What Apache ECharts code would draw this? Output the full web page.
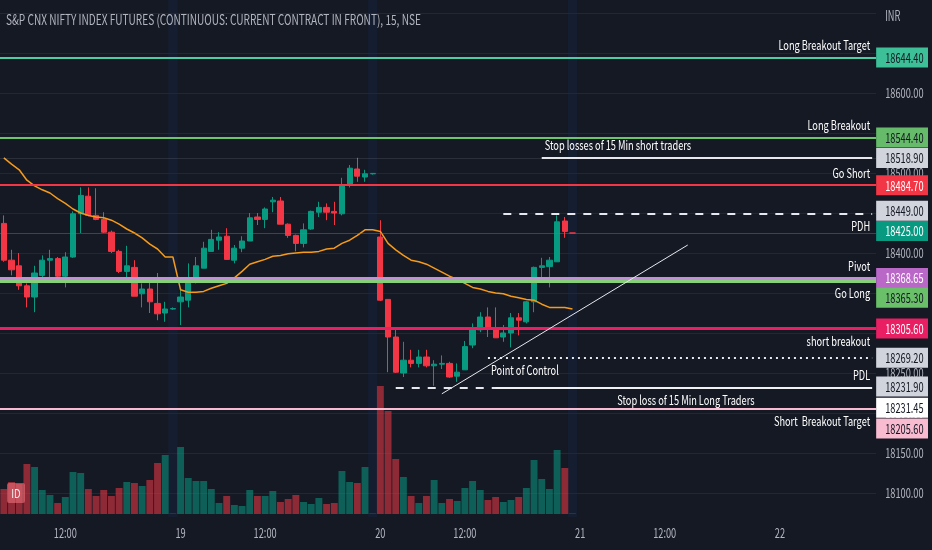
<!DOCTYPE html>
<html>
<head>
<meta charset="utf-8">
<script src="https://cdn.jsdelivr.net/npm/echarts@6/dist/echarts.min.js"></script>
<style>
  html, body { margin: 0; padding: 0; background: #151924; }
  #chart { width: 932px; height: 550px; }
</style>
</head>
<body>
<div id="chart"></div>
<script>
// narrow look of the screenshot: Source Sans latin (inside Noto CJK) squeezed horizontally
var FONT = "'Noto Sans CJK SC', 'DejaVu Sans Condensed', sans-serif";

// bars: 16th from 10:00, then 19th and 20th full sessions (15:30 = closing tick)
var days = ['16', '19', '20', '21', '22'];
var firstBar = 3;
var barCount = 114;
var timeTicks = ['16 12:00', '19 09:15', '19 12:00', '20 09:15', '20 12:00', '21 09:15', '21 12:00', '22 09:15'];
var timeTickText = ['12:00', '19', '12:00', '20', '12:00', '21', '12:00', '22'];
var priceTicks = [18100, 18150, 18200, 18250, 18300, 18350, 18400, 18450, 18500, 18550, 18600, 18650];

// [open, close, low, high]
var candles = [
  [18437, 18391, 18389, 18447], [18391, 18379, 18372, 18404], [18384, 18359, 18354, 18400],
  [18359, 18345, 18332, 18362], [18345, 18375, 18326, 18384], [18372, 18391, 18366, 18397],
  [18391, 18393, 18370, 18404], [18393, 18371, 18369, 18395], [18371, 18395, 18357, 18401],
  [18395, 18449, 18394, 18452], [18449, 18472, 18425, 18482], [18471, 18447, 18446, 18482],
  [18447, 18442, 18441, 18481], [18442, 18426, 18425, 18451], [18426, 18402, 18400, 18428],
  [18402, 18377, 18375, 18404], [18377, 18384, 18364, 18409], [18382, 18346, 18346, 18391],
  [18349, 18355, 18332, 18362], [18355, 18339, 18325, 18366], [18337, 18324, 18316, 18375],
  [18325, 18330, 18314, 18339], [18330, 18330.5, 18329, 18332],
  [18339, 18345, 18310, 18354], [18341, 18369, 18332, 18387], [18369, 18384, 18362, 18395],
  [18381, 18406, 18381, 18414], [18402, 18417, 18402, 18429], [18416, 18420, 18404, 18426],
  [18421, 18392, 18392, 18431], [18391, 18406, 18387, 18410], [18406, 18415, 18401, 18421],
  [18415, 18444, 18415, 18450], [18445, 18442, 18435, 18450], [18442, 18455, 18431, 18457],
  [18464, 18466, 18451, 18470], [18465, 18436, 18436, 18470], [18436, 18422, 18419, 18437],
  [18422, 18412, 18402, 18423], [18412, 18429, 18407, 18437], [18430, 18452, 18429, 18453],
  [18451, 18457, 18445, 18464], [18457, 18451, 18441, 18462], [18452, 18450, 18435, 18464],
  [18449, 18485, 18447, 18494], [18485, 18506, 18482, 18510], [18505, 18496, 18489, 18519],
  [18495, 18499, 18489, 18504], [18499, 18499.5, 18498, 18500],
  [18420, 18341, 18340, 18441], [18342, 18295, 18251, 18342], [18295, 18251, 18250, 18304],
  [18250, 18266, 18245, 18289], [18266, 18262, 18257, 18279], [18262, 18270, 18257, 18279],
  [18270, 18259, 18257, 18279], [18259, 18261, 18234, 18266], [18261, 18262, 18255, 18272],
  [18262, 18245, 18244, 18264], [18246, 18251, 18239, 18262], [18254, 18283, 18254, 18290],
  [18285, 18306, 18281, 18312], [18304, 18320, 18301, 18326], [18320, 18305, 18295, 18332],
  [18306, 18294, 18294, 18332], [18295, 18300, 18289, 18310], [18300, 18319, 18282, 18325],
  [18319, 18316, 18297, 18325], [18314, 18339, 18312, 18340], [18339, 18382, 18326, 18383],
  [18382, 18384, 18370, 18394], [18383, 18391, 18357, 18395], [18389, 18439, 18389, 18447],
  [18440, 18427, 18419, 18445], [18425, 18425, 18425, 18425]
];

// volume, thousands
var volumes = [
  25, 32, 30, 50, 47, 24, 19, 11, 17, 42,
  41, 25, 18, 24, 18, 26, 32, 31, 28, 34,
  51, 59, 0.5, 67, 36, 33, 33, 25, 11, 18,
  9, 8, 24, 18, 18, 23, 12, 15, 19, 12,
  10, 16, 10, 11, 43, 32, 31, 47, 0.5, 128,
  103, 55, 37, 18, 11, 18, 34, 11, 15, 13,
  26, 33, 24, 14, 17, 12, 14, 17, 26, 54,
  35, 25, 64, 46, 0.5
];

// orange moving average
var avgLine = [
  18519, 18511, 18504, 18491, 18484, 18479, 18475, 18468, 18462, 18455,
  18450, 18447, 18445, 18444, 18441, 18436, 18430, 18425, 18419, 18411,
  18405, 18395, 18395, 18354, 18351, 18351, 18352, 18356, 18359, 18362,
  18369, 18377, 18386, 18389, 18392, 18396, 18397, 18399, 18400, 18401,
  18401, 18402, 18405, 18406, 18412, 18416, 18422, 18429, 18429, 18427,
  18412, 18404, 18397, 18391, 18389, 18386, 18381, 18376, 18371, 18367,
  18362, 18357, 18355, 18352, 18350, 18349, 18346, 18344, 18342, 18341,
  18336, 18332, 18332, 18332, 18330
];

var levelPrices = [18644.40, 18544.40, 18518.90, 18484.70, 18449.00, 18368.65, 18365.30, 18305.60, 18269.20, 18231.90, 18231.45, 18205.60];
var levelNames = ['Long Breakout Target', 'Long Breakout', 'Stop losses of 15 Min short traders', 'Go Short', 'PDH', 'Pivot', 'Go Long', 'short breakout', 'Point of Control', 'PDL', 'Stop loss of 15 Min Long Traders', 'Short  Breakout Target'];
// bar where a drawing starts (null = whole width)
var levelStart = [null, null, 70, null, 65, null, null, null, 63, 51, 64, null];
var lastPrice = 18425.00;
var trendLine = [[57, 18224], [89, 18410]];

var levelStyle = [
  { color: '#4ecca3', width: 2, type: 'solid', pos: 'endTop', box: '#3dbf98', text: '#131722', shift: 0 },
  { color: '#6cc46b', width: 2, type: 'solid', pos: 'endTop', box: '#66bb6a', text: '#131722', shift: 0 },
  { color: '#e6e8ee', width: 2, type: 'solid', pos: 'startTop', box: '#d1d4dc', text: '#131722', shift: 0 },
  { color: '#f23645', width: 2, type: 'solid', pos: 'endTop', box: '#f23645', text: '#ffffff', shift: 0 },
  { color: '#e6e8ee', width: 2, type: [8, 8], pos: 'endBottom', box: '#d1d4dc', text: '#131722', shift: -3 },
  { color: '#c38fd6', width: 3, type: 'solid', pos: 'endTop', box: '#ba68c8', text: '#ffffff', shift: 0 },
  { color: '#86d07a', width: 3, type: 'solid', pos: 'endBottom', box: '#6abf69', text: '#131722', shift: 17 },
  { color: '#e91e63', width: 3, type: 'solid', pos: 'endBottom', box: '#e91e63', text: '#ffffff', shift: 0 },
  { color: '#e6e8ee', width: 2, type: [2, 4], pos: 'startBottom', box: '#d1d4dc', text: '#131722', shift: 0 },
  { color: '#e6e8ee', width: 2, type: [8, 8], pos: 'endTop', box: '#d1d4dc', text: '#131722', shift: -1 },
  { color: '#f0f1f4', width: 2, type: 'solid', pos: 'middleBottom', box: '#ffffff', text: '#131722', shift: 20 },
  { color: '#f8bbd0', width: 2, type: 'solid', pos: 'endBottom', box: '#f8bbd0', text: '#131722', shift: 20 }
];

function pad(n) { return (n < 10 ? '0' : '') + n; }

var sessionTimes = [];
for (var m = 9 * 60 + 15; m <= 15 * 60 + 30; m += 15) {
  sessionTimes.push(pad(Math.floor(m / 60)) + ':' + pad(m % 60));
}
var categories = [];
days.forEach(function (d) {
  sessionTimes.forEach(function (t) { categories.push(d + ' ' + t); });
});
categories = categories.slice(firstBar, firstBar + barCount);

var volData = volumes.map(function (v, i) {
  var up = candles[i][1] >= candles[i][0];
  return { value: v, itemStyle: { color: up ? 'rgba(8,153,129,0.55)' : 'rgba(242,54,69,0.55)' } };
});

var lastIdx = categories.length - 1;
var markData = [];
// faint continuation of the short-stop level and the last price line
markData.push({ yAxis: levelPrices[2], lineStyle: { color: 'rgba(209,212,220,0.12)', width: 1, type: 'solid' } });
markData.push({ yAxis: lastPrice, lineStyle: { color: 'rgba(214,70,110,0.45)', width: 1, type: 'solid' } });
levelPrices.forEach(function (p, i) {
  var st = levelStyle[i];
  var ls = { color: st.color, width: st.width, type: st.type, opacity: 1 };
  if (levelStart[i] === null) {
    markData.push({ yAxis: p, lineStyle: ls });
  } else {
    markData.push([{ coord: [levelStart[i], p], lineStyle: ls }, { coord: [lastIdx, p] }]);
  }
});
markData.push([
  { coord: trendLine[0], lineStyle: { color: '#e6e8ee', width: 1, type: 'solid' } },
  { coord: trendLine[1] }
]);

var myChart = echarts.init(document.getElementById('chart'));

myChart.setOption({
  backgroundColor: '#151924',
  animation: false,
  grid: [
    { left: -2, right: 56, top: 13, height: 480 },
    { left: -2, right: 56, top: 384, height: 130 }
  ],
  xAxis: [
    {
      type: 'category', gridIndex: 0, data: categories, boundaryGap: true,
      axisLine: { show: false }, axisTick: { show: false }, axisLabel: { show: false },
      splitLine: { show: false }
    },
    {
      type: 'category', gridIndex: 1, data: categories, boundaryGap: true,
      axisLine: { show: false }, axisTick: { show: false }, axisLabel: { show: false },
      splitLine: { show: false }
    }
  ],
  yAxis: [
    {
      type: 'value', gridIndex: 0, position: 'right', min: 18100, max: 18700, interval: 50,
      axisLine: { show: false }, axisTick: { show: false }, axisLabel: { show: false },
      splitLine: { lineStyle: { color: '#232734', width: 1 } }
    },
    {
      type: 'value', gridIndex: 1, min: 0, max: 130, show: false
    }
  ],
  series: [
    {
      name: 'Volume', type: 'bar', xAxisIndex: 1, yAxisIndex: 1,
      data: volData, barCategoryGap: '10%', silent: true
    },
    {
      name: 'NIFTY1!', type: 'candlestick', xAxisIndex: 0, yAxisIndex: 0,
      data: candles, barWidth: '74%', silent: true,
      itemStyle: { color: '#089981', color0: '#f23645', borderColor: '#089981', borderColor0: '#f23645', borderWidth: 1 }
    },
    {
      name: 'MA', type: 'line', xAxisIndex: 0, yAxisIndex: 0,
      data: avgLine, symbol: 'none', silent: true,
      lineStyle: { color: '#f59a1b', width: 1.5 }
    },
    {
      name: 'Levels', type: 'line', xAxisIndex: 0, yAxisIndex: 0, data: [],
      markLine: { silent: true, symbol: ['none', 'none'], animation: false, label: { show: false }, data: markData }
    }
  ]
});

function txt(x, y, s, fill, align, z, size, sx) {
  return {
    type: 'text', x: x, y: y, z: z || 60, silent: true, scaleX: sx || 0.66,
    style: { text: s, fill: fill, font: (size || 14) + 'px ' + FONT, align: align || 'left', verticalAlign: 'middle' }
  };
}

// texts, price tags on the right scale, session-close glows
function drawOverlay() {
  var els = [];
  var px = function (i) { return myChart.convertToPixel({ xAxisIndex: 0 }, i); };
  var py = function (p) { return myChart.convertToPixel({ yAxisIndex: 0 }, p); };
  var right = px(lastIdx) + 4;
  var bandW = px(1) - px(0);

  categories.forEach(function (c, i) {
    if (i < candles.length && c.split(' ')[1] === '15:30') {
      els.push({ type: 'rect', z: -10, silent: true,
        shape: { x: px(i) - bandW * 0.6, y: 0, width: bandW * 1.2, height: 517 },
        style: { fill: 'rgba(41,98,255,0.06)' } });
    }
  });

  els.push(txt(6, 20, 'S&P CNX NIFTY INDEX FUTURES (CONTINUOUS: CURRENT CONTRACT IN FRONT), 15, NSE', '#b2b5be', 'left', 60, 14, 0.72));
  els.push(txt(right + 9, 16, 'INR', '#b2b5be'));

  priceTicks.forEach(function (p) {
    els.push(txt(right + 9, py(p), p.toFixed(2), '#b2b5be', 'left', 50));
  });
  timeTicks.forEach(function (c, i) {
    els.push(txt(myChart.convertToPixel({ xAxisIndex: 1 }, categories.indexOf(c)), 533, timeTickText[i], '#b2b5be', 'center', 50));
  });

  levelPrices.forEach(function (p, i) {
    var pos = levelStyle[i].pos;
    var y = py(p) + (pos.indexOf('Top') > 0 ? -12.5 : 12.5);
    var x, align;
    if (pos.indexOf('end') === 0) { x = right - 6; align = 'right'; }
    else if (pos.indexOf('start') === 0) { x = px(levelStart[i]) + 3; align = 'left'; }
    else { x = (px(levelStart[i]) + right) / 2; align = 'center'; }
    els.push(txt(x, y, levelNames[i], '#ffffff', align, 70, 13, 0.71));
  });

  var tags = levelPrices.map(function (p, i) {
    return { price: p, fill: levelStyle[i].box, text: levelStyle[i].text, shift: levelStyle[i].shift };
  });
  tags.push({ price: lastPrice, fill: '#089981', text: '#ffffff', shift: -2 });
  tags.forEach(function (t) {
    var y = py(t.price) + t.shift;
    els.push({ type: 'rect', z: 100, silent: true,
      shape: { x: right, y: y - 10, width: 932 - right - 4, height: 20 },
      style: { fill: t.fill } });
    els.push(txt(right + 9, y, t.price.toFixed(2), t.text, 'left', 101));
  });

  els.push({ type: 'rect', z: 101, silent: true, shape: { x: 7, y: 483, width: 18, height: 20, r: 2 },
    style: { fill: 'rgba(236,112,124,0.6)' } });
  els.push(txt(16, 493, 'ID', '#f0f0f0', 'center', 102, 12, 0.8));
  myChart.setOption({ graphic: els });
}
drawOverlay();

window.addEventListener('resize', function () {
  myChart.resize();
  drawOverlay();
});
</script>
</body>
</html>
